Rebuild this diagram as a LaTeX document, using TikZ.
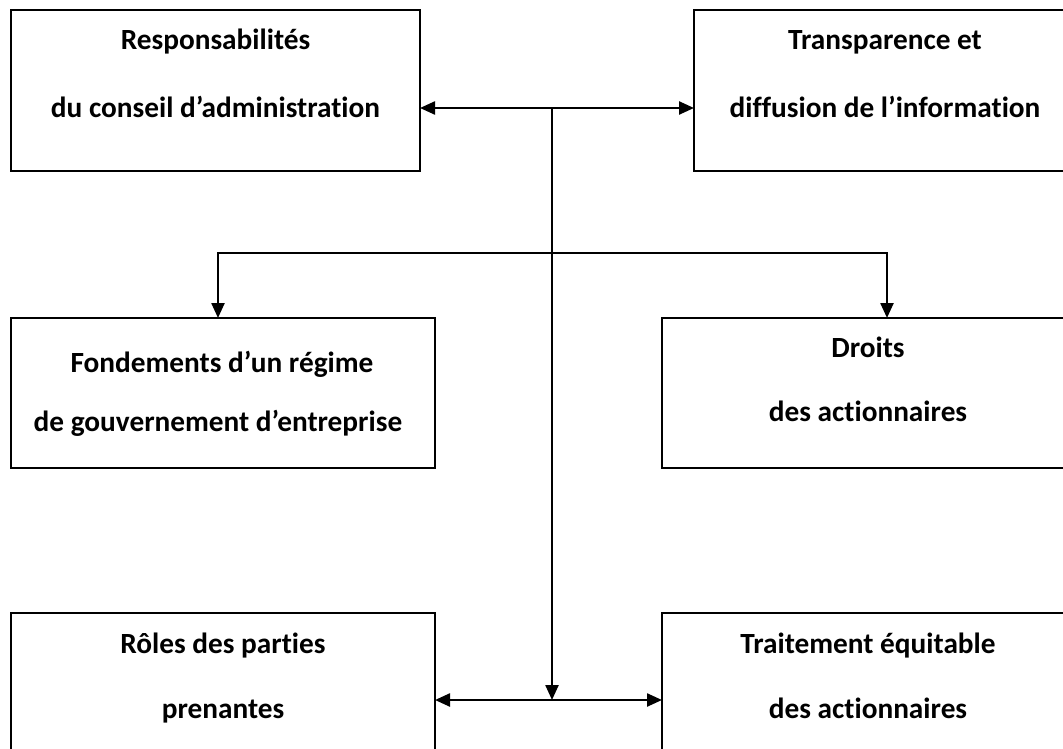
\documentclass[tikz,border=0pt]{standalone}
\usepackage{fontspec}
\setmainfont{Carlito}[Ligatures=NoCommon]
\usetikzlibrary{arrows.meta}
\begin{document}
\begin{tikzpicture}[x=1pt,y=-1pt,
  box/.style={draw=black,line width=2.2pt},
  txt/.style={anchor=base,inner sep=0pt,font=\fontsize{29.3}{35}\selectfont\bfseries},
  link/.style={line width=2.4pt,-{Triangle[length=15pt,width=13pt]}},
  dlink/.style={line width=2.4pt,{Triangle[length=15pt,width=13pt]}-{Triangle[length=15pt,width=13pt]}}]
\useasboundingbox (0,0) rectangle (1063,749);
\clip (0,0) rectangle (1063,749);
\fill[white] (0,0) rectangle (1063,749);

% boxes
\draw[box] (11,10) rectangle (420,171) node[midway,inner sep=0pt] (tl) {};
\draw[box] (694,10) rectangle (1075,171) node[midway,inner sep=0pt] (tr) {};
\draw[box] (11,318) rectangle (435,468) node[midway,inner sep=0pt] (ml) {};
\draw[box] (662,318) rectangle (1075,468) node[midway,inner sep=0pt] (mr) {};
\draw[box] (11,613) rectangle (435,765) node[midway,inner sep=0pt] (bl) {};
\draw[box] (662,613) rectangle (1075,765) node[midway,inner sep=0pt] (br) {};

% anchors on the box edges
\coordinate (tlE) at (420,108);
\coordinate (trW) at (694,108);
\coordinate (mlN) at (218,318);
\coordinate (mrN) at (887,318);
\coordinate (blE) at (435,700);
\coordinate (brW) at (662,700);

% texts
\node[txt] (tl1) at (215.5,50) {Responsabilités};
\node[txt] (tl2) at (215.5,118) {du conseil d’administration};
\node[txt] (tr1) at (885,50) {Transparence et};
\node[txt] (tr2) at (885,118) {diffusion de l’information};
\node[txt] (ml1) at (222,372) {Fondements d’un régime};
\node[txt] (ml2) at (218,431) {de gouvernement d’entreprise};
\node[txt] (mr1) at (868,357) {Droits};
\node[txt] (mr2) at (868,421) {des actionnaires};
\node[txt] (bl1) at (223,653) {Rôles des parties};
\node[txt] (bl2) at (223,718) {prenantes};
\node[txt] (br1) at (868,653) {Traitement équitable};
\node[txt] (br2) at (868,718) {des actionnaires};

% connectors
\coordinate (hubT) at (552,108);
\coordinate (hubM) at (552,253);
\coordinate (hubB) at (552,700);
\draw[dlink] (tlE) -- (trW);
\draw[link] (hubT) -- (hubB);
\draw[link] (hubM) -| (mlN);
\draw[link] (hubM) -| (mrN);
\draw[dlink] (blE) -- (brW);
\end{tikzpicture}
\end{document}
